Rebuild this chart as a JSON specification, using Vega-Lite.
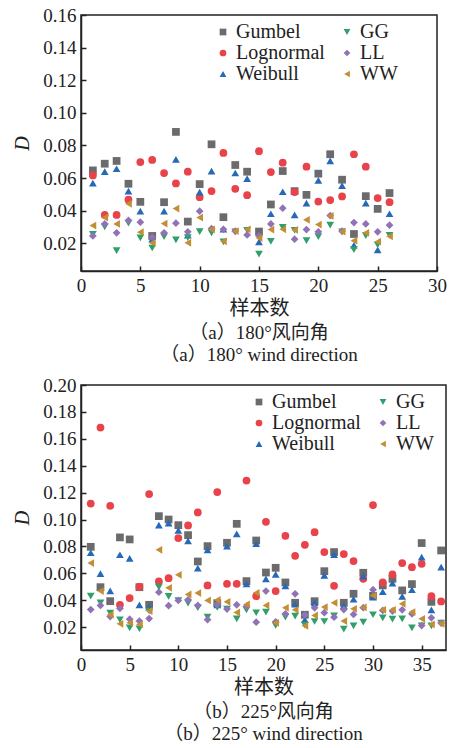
{
  "$schema": "https://vega.github.io/schema/vega-lite/v6.json",
  "padding": {"left": 12, "top": 5, "right": 5, "bottom": 0},
  "background": "white",
  "config": {
    "font": "'Liberation Serif', 'Times New Roman', serif",
    "view": {"stroke": "#222", "strokeWidth": 1.5},
    "axis": {
      "domainColor": "#222", "domainWidth": 1.5, "tickColor": "#222", "tickWidth": 1.5, "tickSize": -5,
      "labelFont": "'Liberation Serif', 'Times New Roman', serif", "labelFontSize": 19, "labelColor": "#222", "labelPadding": 10,
      "labelFlush": false, "labelOverlap": false, "grid": false,
      "titleFont": "'Liberation Serif', 'Noto Sans CJK SC', serif", "titleFontSize": 20, "titleFontWeight": "normal", "titleColor": "#222"
    },
    "legend": {
      "orient": "none", "columns": 2, "labelFont": "'Liberation Serif', 'Times New Roman', serif", "labelFontSize": 20, "labelColor": "#222",
      "symbolSize": 45, "rowPadding": 1, "columnPadding": 12, "labelOffset": 3, "symbolStrokeWidth": 0, "title": null
    },
    "title": {"font": "'Liberation Serif', 'Noto Sans CJK SC', serif", "fontSize": 19, "fontWeight": "normal", "color": "#222", "lineHeight": 22, "orient": "bottom", "offset": 6}
  },
  "datasets": {
    "a": [
      {"sample":1,"model":"Gumbel","D":0.0647},{"sample":1,"model":"Lognormal","D":0.0616},{"sample":1,"model":"Weibull","D":0.0569},{"sample":1,"model":"GG","D":0.0255},{"sample":1,"model":"LL","D":0.0245},{"sample":1,"model":"WW","D":0.0309},
      {"sample":2,"model":"Gumbel","D":0.0688},{"sample":2,"model":"Lognormal","D":0.0374},{"sample":2,"model":"Weibull","D":0.0639},{"sample":2,"model":"GG","D":0.0300},{"sample":2,"model":"LL","D":0.0319},{"sample":2,"model":"WW","D":0.0358},
      {"sample":3,"model":"Gumbel","D":0.0705},{"sample":3,"model":"Lognormal","D":0.0374},{"sample":3,"model":"Weibull","D":0.0657},{"sample":3,"model":"GG","D":0.0155},{"sample":3,"model":"LL","D":0.0264},{"sample":3,"model":"WW","D":0.0319},
      {"sample":4,"model":"Gumbel","D":0.0565},{"sample":4,"model":"Lognormal","D":0.0467},{"sample":4,"model":"Weibull","D":0.0520},{"sample":4,"model":"GG","D":0.0323},{"sample":4,"model":"LL","D":0.0340},{"sample":4,"model":"WW","D":0.0442},
      {"sample":5,"model":"Gumbel","D":0.0454},{"sample":5,"model":"Lognormal","D":0.0698},{"sample":5,"model":"Weibull","D":0.0397},{"sample":5,"model":"GG","D":0.0233},{"sample":5,"model":"LL","D":0.0329},{"sample":5,"model":"WW","D":0.0268},
      {"sample":6,"model":"Gumbel","D":0.0245},{"sample":6,"model":"Lognormal","D":0.0711},{"sample":6,"model":"Weibull","D":0.0225},{"sample":6,"model":"GG","D":0.0171},{"sample":6,"model":"LL","D":0.0237},{"sample":6,"model":"WW","D":0.0202},
      {"sample":7,"model":"Gumbel","D":0.0452},{"sample":7,"model":"Lognormal","D":0.0631},{"sample":7,"model":"Weibull","D":0.0397},{"sample":7,"model":"GG","D":0.0241},{"sample":7,"model":"LL","D":0.0264},{"sample":7,"model":"WW","D":0.0321},
      {"sample":8,"model":"Gumbel","D":0.0883},{"sample":8,"model":"Lognormal","D":0.0567},{"sample":8,"model":"Weibull","D":0.0715},{"sample":8,"model":"GG","D":0.0221},{"sample":8,"model":"LL","D":0.0323},{"sample":8,"model":"WW","D":0.0413},
      {"sample":9,"model":"Gumbel","D":0.0333},{"sample":9,"model":"Lognormal","D":0.0639},{"sample":9,"model":"Weibull","D":0.0250},{"sample":9,"model":"GG","D":0.0235},{"sample":9,"model":"LL","D":0.0270},{"sample":9,"model":"WW","D":0.0203},
      {"sample":10,"model":"Gumbel","D":0.0563},{"sample":10,"model":"Lognormal","D":0.0483},{"sample":10,"model":"Weibull","D":0.0514},{"sample":10,"model":"GG","D":0.0272},{"sample":10,"model":"LL","D":0.0397},{"sample":10,"model":"WW","D":0.0358},
      {"sample":11,"model":"Gumbel","D":0.0807},{"sample":11,"model":"Lognormal","D":0.0520},{"sample":11,"model":"Weibull","D":0.0643},{"sample":11,"model":"GG","D":0.0264},{"sample":11,"model":"LL","D":0.0290},{"sample":11,"model":"WW","D":0.0286},
      {"sample":12,"model":"Gumbel","D":0.0360},{"sample":12,"model":"Lognormal","D":0.0754},{"sample":12,"model":"Weibull","D":0.0286},{"sample":12,"model":"GG","D":0.0208},{"sample":12,"model":"LL","D":0.0286},{"sample":12,"model":"WW","D":0.0212},
      {"sample":13,"model":"Gumbel","D":0.0680},{"sample":13,"model":"Lognormal","D":0.0534},{"sample":13,"model":"Weibull","D":0.0631},{"sample":13,"model":"GG","D":0.0270},{"sample":13,"model":"LL","D":0.0274},{"sample":13,"model":"WW","D":0.0274},
      {"sample":14,"model":"Gumbel","D":0.0639},{"sample":14,"model":"Lognormal","D":0.0495},{"sample":14,"model":"Weibull","D":0.0596},{"sample":14,"model":"GG","D":0.0280},{"sample":14,"model":"LL","D":0.0251},{"sample":14,"model":"WW","D":0.0286},
      {"sample":15,"model":"Gumbel","D":0.0272},{"sample":15,"model":"Lognormal","D":0.0765},{"sample":15,"model":"Weibull","D":0.0208},{"sample":15,"model":"GG","D":0.0134},{"sample":15,"model":"LL","D":0.0245},{"sample":15,"model":"WW","D":0.0232},
      {"sample":16,"model":"Gumbel","D":0.0438},{"sample":16,"model":"Lognormal","D":0.0637},{"sample":16,"model":"Weibull","D":0.0381},{"sample":16,"model":"GG","D":0.0212},{"sample":16,"model":"LL","D":0.0319},{"sample":16,"model":"WW","D":0.0284},
      {"sample":17,"model":"Gumbel","D":0.0643},{"sample":17,"model":"Lognormal","D":0.0694},{"sample":17,"model":"Weibull","D":0.0516},{"sample":17,"model":"GG","D":0.0298},{"sample":17,"model":"LL","D":0.0415},{"sample":17,"model":"WW","D":0.0286},
      {"sample":18,"model":"Gumbel","D":0.0520},{"sample":18,"model":"Lognormal","D":0.0514},{"sample":18,"model":"Weibull","D":0.0374},{"sample":18,"model":"GG","D":0.0280},{"sample":18,"model":"LL","D":0.0225},{"sample":18,"model":"WW","D":0.0282},
      {"sample":19,"model":"Gumbel","D":0.0497},{"sample":19,"model":"Lognormal","D":0.0670},{"sample":19,"model":"Weibull","D":0.0446},{"sample":19,"model":"GG","D":0.0216},{"sample":19,"model":"LL","D":0.0284},{"sample":19,"model":"WW","D":0.0344},
      {"sample":20,"model":"Gumbel","D":0.0627},{"sample":20,"model":"Lognormal","D":0.0456},{"sample":20,"model":"Weibull","D":0.0586},{"sample":20,"model":"GG","D":0.0241},{"sample":20,"model":"LL","D":0.0270},{"sample":20,"model":"WW","D":0.0315},
      {"sample":21,"model":"Gumbel","D":0.0746},{"sample":21,"model":"Lognormal","D":0.0465},{"sample":21,"model":"Weibull","D":0.0705},{"sample":21,"model":"GG","D":0.0311},{"sample":21,"model":"LL","D":0.0370},{"sample":21,"model":"WW","D":0.0368},
      {"sample":22,"model":"Gumbel","D":0.0590},{"sample":22,"model":"Lognormal","D":0.0487},{"sample":22,"model":"Weibull","D":0.0553},{"sample":22,"model":"GG","D":0.0270},{"sample":22,"model":"LL","D":0.0274},{"sample":22,"model":"WW","D":0.0272},
      {"sample":23,"model":"Gumbel","D":0.0257},{"sample":23,"model":"Lognormal","D":0.0746},{"sample":23,"model":"Weibull","D":0.0188},{"sample":23,"model":"GG","D":0.0161},{"sample":23,"model":"LL","D":0.0327},{"sample":23,"model":"WW","D":0.0216},
      {"sample":24,"model":"Gumbel","D":0.0489},{"sample":24,"model":"Lognormal","D":0.0670},{"sample":24,"model":"Weibull","D":0.0446},{"sample":24,"model":"GG","D":0.0247},{"sample":24,"model":"LL","D":0.0319},{"sample":24,"model":"WW","D":0.0264},
      {"sample":25,"model":"Gumbel","D":0.0411},{"sample":25,"model":"Lognormal","D":0.0477},{"sample":25,"model":"Weibull","D":0.0159},{"sample":25,"model":"GG","D":0.0190},{"sample":25,"model":"LL","D":0.0270},{"sample":25,"model":"WW","D":0.0210},
      {"sample":26,"model":"Gumbel","D":0.0508},{"sample":26,"model":"Lognormal","D":0.0452},{"sample":26,"model":"Weibull","D":0.0381},{"sample":26,"model":"GG","D":0.0249},{"sample":26,"model":"LL","D":0.0311},{"sample":26,"model":"WW","D":0.0243}
    ],
    "b": [
      {"sample":1,"model":"Gumbel","D":0.0797},{"sample":1,"model":"Lognormal","D":0.1119},{"sample":1,"model":"Weibull","D":0.0753},{"sample":1,"model":"GG","D":0.0430},{"sample":1,"model":"LL","D":0.0331},{"sample":1,"model":"WW","D":0.0676},
      {"sample":2,"model":"Gumbel","D":0.0497},{"sample":2,"model":"Lognormal","D":0.1684},{"sample":2,"model":"Weibull","D":0.0597},{"sample":2,"model":"GG","D":0.0381},{"sample":2,"model":"LL","D":0.0361},{"sample":2,"model":"WW","D":0.0468},
      {"sample":3,"model":"Gumbel","D":0.0393},{"sample":3,"model":"Lognormal","D":0.1102},{"sample":3,"model":"Weibull","D":0.0470},{"sample":3,"model":"GG","D":0.0304},{"sample":3,"model":"LL","D":0.0279},{"sample":3,"model":"WW","D":0.0292},
      {"sample":4,"model":"Gumbel","D":0.0867},{"sample":4,"model":"Lognormal","D":0.0366},{"sample":4,"model":"Weibull","D":0.0738},{"sample":4,"model":"GG","D":0.0255},{"sample":4,"model":"LL","D":0.0339},{"sample":4,"model":"WW","D":0.0225},
      {"sample":5,"model":"Gumbel","D":0.0852},{"sample":5,"model":"Lognormal","D":0.0416},{"sample":5,"model":"Weibull","D":0.0711},{"sample":5,"model":"GG","D":0.0195},{"sample":5,"model":"LL","D":0.0259},{"sample":5,"model":"WW","D":0.0232},
      {"sample":6,"model":"Gumbel","D":0.0497},{"sample":6,"model":"Lognormal","D":0.0500},{"sample":6,"model":"Weibull","D":0.0366},{"sample":6,"model":"GG","D":0.0188},{"sample":6,"model":"LL","D":0.0245},{"sample":6,"model":"WW","D":0.0220},
      {"sample":7,"model":"Gumbel","D":0.0366},{"sample":7,"model":"Lognormal","D":0.1189},{"sample":7,"model":"Weibull","D":0.0349},{"sample":7,"model":"GG","D":0.0320},{"sample":7,"model":"LL","D":0.0264},{"sample":7,"model":"WW","D":0.0319},
      {"sample":8,"model":"Gumbel","D":0.1025},{"sample":8,"model":"Lognormal","D":0.0540},{"sample":8,"model":"Weibull","D":0.0958},{"sample":8,"model":"GG","D":0.0497},{"sample":8,"model":"LL","D":0.0460},{"sample":8,"model":"WW","D":0.0775},
      {"sample":9,"model":"Gumbel","D":0.1000},{"sample":9,"model":"Lognormal","D":0.0564},{"sample":9,"model":"Weibull","D":0.0973},{"sample":9,"model":"GG","D":0.0428},{"sample":9,"model":"LL","D":0.0359},{"sample":9,"model":"WW","D":0.0492},
      {"sample":10,"model":"Gumbel","D":0.0958},{"sample":10,"model":"Lognormal","D":0.0862},{"sample":10,"model":"Weibull","D":0.0919},{"sample":10,"model":"GG","D":0.0398},{"sample":10,"model":"LL","D":0.0398},{"sample":10,"model":"WW","D":0.0589},
      {"sample":11,"model":"Gumbel","D":0.0884},{"sample":11,"model":"Lognormal","D":0.0956},{"sample":11,"model":"Weibull","D":0.0842},{"sample":11,"model":"GG","D":0.0378},{"sample":11,"model":"LL","D":0.0403},{"sample":11,"model":"WW","D":0.0443},
      {"sample":12,"model":"Gumbel","D":0.0688},{"sample":12,"model":"Lognormal","D":0.1053},{"sample":12,"model":"Weibull","D":0.0639},{"sample":12,"model":"GG","D":0.0344},{"sample":12,"model":"LL","D":0.0361},{"sample":12,"model":"WW","D":0.0453},
      {"sample":13,"model":"Gumbel","D":0.0802},{"sample":13,"model":"Lognormal","D":0.0510},{"sample":13,"model":"Weibull","D":0.0775},{"sample":13,"model":"GG","D":0.0274},{"sample":13,"model":"LL","D":0.0255},{"sample":13,"model":"WW","D":0.0398},
      {"sample":14,"model":"Gumbel","D":0.0378},{"sample":14,"model":"Lognormal","D":0.1204},{"sample":14,"model":"Weibull","D":0.0365},{"sample":14,"model":"GG","D":0.0347},{"sample":14,"model":"LL","D":0.0370},{"sample":14,"model":"WW","D":0.0402},
      {"sample":15,"model":"Gumbel","D":0.0827},{"sample":15,"model":"Lognormal","D":0.0522},{"sample":15,"model":"Weibull","D":0.0802},{"sample":15,"model":"GG","D":0.0334},{"sample":15,"model":"LL","D":0.0334},{"sample":15,"model":"WW","D":0.0388},
      {"sample":16,"model":"Gumbel","D":0.0968},{"sample":16,"model":"Lognormal","D":0.0522},{"sample":16,"model":"Weibull","D":0.0894},{"sample":16,"model":"GG","D":0.0262},{"sample":16,"model":"LL","D":0.0366},{"sample":16,"model":"WW","D":0.0309},
      {"sample":17,"model":"Gumbel","D":0.0542},{"sample":17,"model":"Lognormal","D":0.1290},{"sample":17,"model":"Weibull","D":0.0522},{"sample":17,"model":"GG","D":0.0329},{"sample":17,"model":"LL","D":0.0354},{"sample":17,"model":"WW","D":0.0369},
      {"sample":18,"model":"Gumbel","D":0.0844},{"sample":18,"model":"Lognormal","D":0.0430},{"sample":18,"model":"Weibull","D":0.0820},{"sample":18,"model":"GG","D":0.0307},{"sample":18,"model":"LL","D":0.0237},{"sample":18,"model":"WW","D":0.0455},
      {"sample":19,"model":"Gumbel","D":0.0606},{"sample":19,"model":"Lognormal","D":0.0983},{"sample":19,"model":"Weibull","D":0.0559},{"sample":19,"model":"GG","D":0.0312},{"sample":19,"model":"LL","D":0.0468},{"sample":19,"model":"WW","D":0.0361},
      {"sample":20,"model":"Gumbel","D":0.0641},{"sample":20,"model":"Lognormal","D":0.0468},{"sample":20,"model":"Weibull","D":0.0592},{"sample":20,"model":"GG","D":0.0212},{"sample":20,"model":"LL","D":0.0240},{"sample":20,"model":"WW","D":0.0232},
      {"sample":21,"model":"Gumbel","D":0.0532},{"sample":21,"model":"Lognormal","D":0.0879},{"sample":21,"model":"Weibull","D":0.0507},{"sample":21,"model":"GG","D":0.0274},{"sample":21,"model":"LL","D":0.0299},{"sample":21,"model":"WW","D":0.0344},
      {"sample":22,"model":"Gumbel","D":0.0381},{"sample":22,"model":"Lognormal","D":0.0730},{"sample":22,"model":"Weibull","D":0.0370},{"sample":22,"model":"GG","D":0.0282},{"sample":22,"model":"LL","D":0.0448},{"sample":22,"model":"WW","D":0.0329},
      {"sample":23,"model":"Gumbel","D":0.0292},{"sample":23,"model":"Lognormal","D":0.0812},{"sample":23,"model":"Weibull","D":0.0255},{"sample":23,"model":"GG","D":0.0215},{"sample":23,"model":"LL","D":0.0292},{"sample":23,"model":"WW","D":0.0210},
      {"sample":24,"model":"Gumbel","D":0.0393},{"sample":24,"model":"Lognormal","D":0.0906},{"sample":24,"model":"Weibull","D":0.0380},{"sample":24,"model":"GG","D":0.0242},{"sample":24,"model":"LL","D":0.0344},{"sample":24,"model":"WW","D":0.0287},
      {"sample":25,"model":"Gumbel","D":0.0616},{"sample":25,"model":"Lognormal","D":0.0758},{"sample":25,"model":"Weibull","D":0.0584},{"sample":25,"model":"GG","D":0.0242},{"sample":25,"model":"LL","D":0.0307},{"sample":25,"model":"WW","D":0.0349},
      {"sample":26,"model":"Gumbel","D":0.0758},{"sample":26,"model":"Lognormal","D":0.0507},{"sample":26,"model":"Weibull","D":0.0738},{"sample":26,"model":"GG","D":0.0284},{"sample":26,"model":"LL","D":0.0274},{"sample":26,"model":"WW","D":0.0381},
      {"sample":27,"model":"Gumbel","D":0.0381},{"sample":27,"model":"Lognormal","D":0.0743},{"sample":27,"model":"Weibull","D":0.0360},{"sample":27,"model":"GG","D":0.0185},{"sample":27,"model":"LL","D":0.0331},{"sample":27,"model":"WW","D":0.0245},
      {"sample":28,"model":"Gumbel","D":0.0448},{"sample":28,"model":"Lognormal","D":0.0691},{"sample":28,"model":"Weibull","D":0.0408},{"sample":28,"model":"GG","D":0.0210},{"sample":28,"model":"LL","D":0.0294},{"sample":28,"model":"WW","D":0.0336},
      {"sample":29,"model":"Gumbel","D":0.0604},{"sample":29,"model":"Lognormal","D":0.0559},{"sample":29,"model":"Weibull","D":0.0579},{"sample":29,"model":"GG","D":0.0237},{"sample":29,"model":"LL","D":0.0345},{"sample":29,"model":"WW","D":0.0346},
      {"sample":30,"model":"Gumbel","D":0.0433},{"sample":30,"model":"Lognormal","D":0.1107},{"sample":30,"model":"Weibull","D":0.0423},{"sample":30,"model":"GG","D":0.0292},{"sample":30,"model":"LL","D":0.0478},{"sample":30,"model":"WW","D":0.0435},
      {"sample":31,"model":"Gumbel","D":0.0510},{"sample":31,"model":"Lognormal","D":0.0532},{"sample":31,"model":"Weibull","D":0.0463},{"sample":31,"model":"GG","D":0.0269},{"sample":31,"model":"LL","D":0.0324},{"sample":31,"model":"WW","D":0.0329},
      {"sample":32,"model":"Gumbel","D":0.0559},{"sample":32,"model":"Lognormal","D":0.0592},{"sample":32,"model":"Weibull","D":0.0527},{"sample":32,"model":"GG","D":0.0259},{"sample":32,"model":"LL","D":0.0319},{"sample":32,"model":"WW","D":0.0329},
      {"sample":33,"model":"Gumbel","D":0.0473},{"sample":33,"model":"Lognormal","D":0.0676},{"sample":33,"model":"Weibull","D":0.0428},{"sample":33,"model":"GG","D":0.0262},{"sample":33,"model":"LL","D":0.0329},{"sample":33,"model":"WW","D":0.0373},
      {"sample":34,"model":"Gumbel","D":0.0520},{"sample":34,"model":"Lognormal","D":0.0646},{"sample":34,"model":"Weibull","D":0.0478},{"sample":34,"model":"GG","D":0.0195},{"sample":34,"model":"LL","D":0.0299},{"sample":34,"model":"WW","D":0.0312},
      {"sample":35,"model":"Gumbel","D":0.0825},{"sample":35,"model":"Lognormal","D":0.0671},{"sample":35,"model":"Weibull","D":0.0720},{"sample":35,"model":"GG","D":0.0210},{"sample":35,"model":"LL","D":0.0212},{"sample":35,"model":"WW","D":0.0262},
      {"sample":36,"model":"Gumbel","D":0.0388},{"sample":36,"model":"Lognormal","D":0.0430},{"sample":36,"model":"Weibull","D":0.0329},{"sample":36,"model":"GG","D":0.0210},{"sample":36,"model":"LL","D":0.0269},{"sample":36,"model":"WW","D":0.0220},
      {"sample":37,"model":"Gumbel","D":0.0770},{"sample":37,"model":"Lognormal","D":0.0391},{"sample":37,"model":"Weibull","D":0.0646},{"sample":37,"model":"GG","D":0.0230},{"sample":37,"model":"LL","D":0.0230},{"sample":37,"model":"WW","D":0.0225}
    ]
  },
  "spacing": 9,
  "resolve": {"scale": {"x": "independent", "y": "independent", "color": "independent", "shape": "independent"}, "legend": {"color": "independent", "shape": "independent"}},
  "vconcat": [
    {
      "width": 356, "height": 256,
      "data": {"name": "a"},
      "mark": {"type": "point", "filled": true, "size": 60, "opacity": 1},
      "encoding": {
        "x": {"field": "sample", "type": "quantitative", "scale": {"domain": [0, 30], "nice": false, "zero": false},
              "axis": {"values": [0, 5, 10, 15, 20, 25, 30], "title": "样本数", "titlePadding": 3}},
        "y": {"field": "D", "type": "quantitative", "scale": {"domain": [0.003, 0.16], "nice": false, "zero": false},
              "axis": {"values": [0.02, 0.04, 0.06, 0.08, 0.1, 0.12, 0.14, 0.16], "format": ".2f", "title": "D", "titleFontStyle": "italic", "titlePadding": 10}},
        "color": {"field": "model", "type": "nominal",
                  "scale": {"domain": ["Gumbel", "Lognormal", "Weibull", "GG", "LL", "WW"], "range": ["#6b6b6e", "#e8424a", "#2569b8", "#2fa06a", "#8f73b6", "#c48e35"]},
                  "legend": {"legendX": 132, "legendY": 7}},
        "shape": {"field": "model", "type": "nominal",
                  "scale": {"domain": ["Gumbel", "Lognormal", "Weibull", "GG", "LL", "WW"], "range": ["square", "circle", "triangle-up", "triangle-down", "diamond", "triangle-left"]},
                  "legend": {"legendX": 132, "legendY": 7}}
      },
      "title": {"text": ["（a）180°风向角", "（a）180° wind direction"]}
    },
    {
      "width": 365, "height": 265,
      "data": {"name": "b"},
      "mark": {"type": "point", "filled": true, "size": 60, "opacity": 1},
      "encoding": {
        "x": {"field": "sample", "type": "quantitative", "scale": {"domain": [0, 37.5], "nice": false, "zero": false},
              "axis": {"values": [0, 5, 10, 15, 20, 25, 30, 35], "title": "样本数", "titlePadding": 3}},
        "y": {"field": "D", "type": "quantitative", "scale": {"domain": [0.003, 0.2], "nice": false, "zero": false},
              "axis": {"values": [0.02, 0.04, 0.06, 0.08, 0.1, 0.12, 0.14, 0.16, 0.18, 0.2], "format": ".2f", "title": "D", "titleFontStyle": "italic", "titlePadding": 10}},
        "color": {"field": "model", "type": "nominal",
                  "scale": {"domain": ["Gumbel", "Lognormal", "Weibull", "GG", "LL", "WW"], "range": ["#6b6b6e", "#e8424a", "#2569b8", "#2fa06a", "#8f73b6", "#c48e35"]},
                  "legend": {"legendX": 168, "legendY": 7}},
        "shape": {"field": "model", "type": "nominal",
                  "scale": {"domain": ["Gumbel", "Lognormal", "Weibull", "GG", "LL", "WW"], "range": ["square", "circle", "triangle-up", "triangle-down", "diamond", "triangle-left"]},
                  "legend": {"legendX": 168, "legendY": 7}}
      },
      "title": {"text": ["（b）225°风向角", "（b）225° wind direction"]}
    }
  ]
}
